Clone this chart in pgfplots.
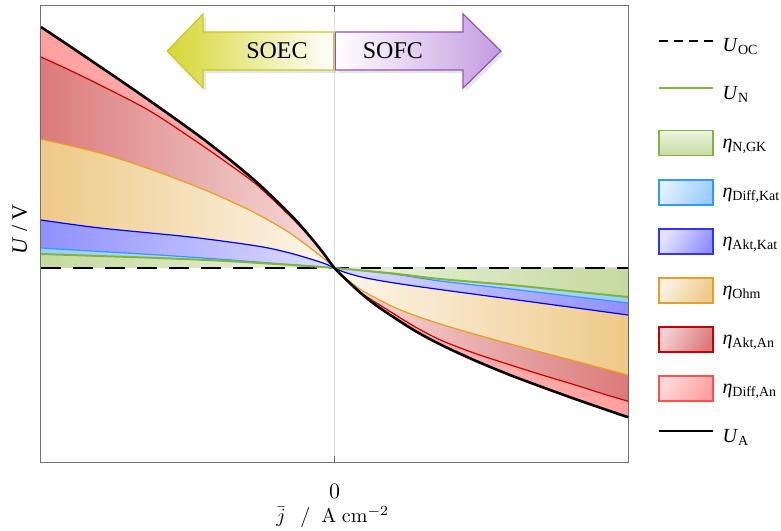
\documentclass[border=0pt]{standalone}
\usepackage[no-math]{fontspec}
\setmainfont{Liberation Serif}
\usepackage{pgfplots}
\usepackage{pgfplotstable}
\pgfplotsset{compat=1.18}
\usepgfplotslibrary{fillbetween}
\usetikzlibrary{shadows}

\definecolor{ngkfill}{RGB}{197,218,159}
\definecolor{ngkline}{RGB}{130,180,60}
\definecolor{dkfill}{RGB}{153,204,255}
\definecolor{dkline}{RGB}{51,153,255}
\definecolor{akfill}{RGB}{144,144,255}
\definecolor{akline}{RGB}{0,0,255}
\definecolor{ohmfill}{RGB}{238,201,135}
\definecolor{ohmline}{RGB}{232,160,32}
\definecolor{aafill}{RGB}{220,122,122}
\definecolor{aaline}{RGB}{204,0,0}
\definecolor{dafill}{RGB}{255,160,160}
\definecolor{daline}{RGB}{255,80,80}
\definecolor{soecfill}{RGB}{214,214,50}
\definecolor{soecline}{RGB}{200,200,30}
\definecolor{sofcfill}{RGB}{195,155,224}
\definecolor{sofcline}{RGB}{150,80,190}

% U_A
\pgfplotstableread{
x y
-1.000 2.410
-0.911 2.236
-0.799 2.014
-0.687 1.790
-0.571 1.552
-0.458 1.313
-0.356 1.081
-0.264 0.855
-0.152 0.540
-0.084 0.317
-0.039 0.153
0.000 0.000
0.055 -0.159
0.102 -0.282
0.157 -0.405
0.269 -0.619
0.361 -0.765
0.474 -0.919
0.589 -1.060
0.702 -1.185
0.814 -1.304
0.930 -1.422
1.000 -1.492
}\tabUA
% boundary Akt,An
\pgfplotstableread{
x y
-1.000 2.11
-0.911 1.99
-0.799 1.83
-0.629 1.57
-0.458 1.24
-0.356 1.03
-0.264 0.83
-0.152 0.52
-0.084 0.31
-0.039 0.148
0.000 0.000
0.055 -0.154
0.102 -0.272
0.157 -0.375
0.269 -0.579
0.361 -0.720
0.474 -0.849
0.589 -0.960
0.702 -1.065
0.814 -1.164
0.930 -1.272
1.000 -1.332
}\tabAA
% boundary Ohm
\pgfplotstableread{
x y
-1.000 1.29
-0.799 1.15
-0.629 0.99
-0.458 0.80
-0.356 0.67
-0.264 0.54
-0.152 0.35
-0.039 0.10
0.000 0.00
0.034 -0.094
0.099 -0.233
0.215 -0.407
0.361 -0.561
0.589 -0.752
0.814 -0.926
1.000 -1.070
}\tabOhm
% boundary Akt,Kat
\pgfplotstableread{
x y
-1.000 0.48
-0.799 0.40
-0.492 0.31
-0.264 0.22
-0.152 0.15
-0.039 0.05
0.000 0.00
0.034 -0.042
0.099 -0.095
0.204 -0.150
0.361 -0.216
0.702 -0.351
1.000 -0.470
}\tabAK
% boundary Diff,Kat
\pgfplotstableread{
x y
-1.000 0.200
-0.800 0.165
-0.600 0.130
-0.400 0.090
-0.200 0.045
0.000 0.000
0.200 -0.060
0.360 -0.130
0.600 -0.210
0.800 -0.280
1.000 -0.350
}\tabDK
% U_N
\pgfplotstableread{
x y
-1.000 0.140
-0.800 0.120
-0.600 0.100
-0.400 0.075
-0.200 0.040
0.000 0.000
0.200 -0.055
0.360 -0.110
0.600 -0.170
0.800 -0.230
1.000 -0.290
}\tabUN
% U_OC
\pgfplotstableread{
x y
-1.000 0.00
1.000 0.00
}\tabUOC

\newcommand{\legsub}[1]{\textsubscript{#1}}

\begin{document}
\begin{tikzpicture}[font=\fontsize{10}{12}\selectfont]
\begin{axis}[
  scale only axis, width=293.5pt, height=228pt,
  xmin=-1, xmax=1, ymin=-1.94, ymax=2.62,
  xtick={0}, ytick=\empty,
  xmajorgrids, grid style={black!12, line width=0.4pt},
  axis line style={black!55, line width=0.5pt},
  tick style={black!60, line width=0.5pt}, major tick length=3pt,
  xticklabel style={font=\fontsize{10.5}{12}\selectfont, yshift=-7.5pt},
  set layers,
  xlabel={$\bar{j}\;\;\,/\;\;\mathrm{A}\;\mathrm{cm}^{-2}$},
  xlabel style={at={(axis description cs:0.497,-0.121)}, anchor=center, font=\fontsize{10}{12}\selectfont},
  ylabel={\textit{U} / V},
  ylabel style={at={(axis description cs:-0.036,0.51)}, anchor=center, font=\fontsize{11}{12}\selectfont},
  legend style={at={(axis description cs:1.051,0.939)}, anchor=north west, draw=none, fill=none,
    inner sep=0pt, outer sep=0pt, row sep=11.25pt,
    nodes={inner sep=0pt, text height=9pt, text depth=3.5pt},
    /tikz/every odd column/.append style={column sep=4pt},
    font=\fontsize{10}{12}\selectfont},
  legend cell align=left,
  every axis plot/.append style={mark=none},
]
% named paths (drawn later as lines)
\addplot[forget plot, draw=none, name path=UA, smooth] table[x=x,y=y] {\tabUA};
\addplot[forget plot, draw=none, name path=AA, smooth] table[x=x,y=y] {\tabAA};
\addplot[forget plot, draw=none, name path=OH, smooth] table[x=x,y=y] {\tabOhm};
\addplot[forget plot, draw=none, name path=AK, smooth] table[x=x,y=y] {\tabAK};
\addplot[forget plot, draw=none, name path=DK, smooth] table[x=x,y=y] {\tabDK};
\addplot[forget plot, draw=none, name path=UN, smooth] table[x=x,y=y] {\tabUN};
\addplot[forget plot, draw=none, name path=UOC] table[x=x,y=y] {\tabUOC};

% fills, left (SOEC) side
\addplot[forget plot, left color=dafill, right color=dafill!75!white] fill between[of=UA and AA, soft clip={domain=-1:0}];
\addplot[forget plot, left color=aafill, right color=aafill!25!white] fill between[of=AA and OH, soft clip={domain=-1:0}];
\addplot[forget plot, left color=ohmfill, right color=ohmfill!15!white] fill between[of=OH and AK, soft clip={domain=-1:0}];
\addplot[forget plot, left color=akfill, right color=akfill!30!white] fill between[of=AK and DK, soft clip={domain=-1:0}];
\addplot[forget plot, left color=dkfill, right color=dkfill!40!white] fill between[of=DK and UN, soft clip={domain=-1:0}];
\addplot[forget plot, left color=ngkfill, right color=ngkfill!35!white] fill between[of=UN and UOC, soft clip={domain=-1:0}];
% fills, right (SOFC) side
\addplot[forget plot, right color=dafill, left color=dafill!75!white] fill between[of=UA and AA, soft clip={domain=0:1}];
\addplot[forget plot, right color=aafill, left color=aafill!25!white] fill between[of=AA and OH, soft clip={domain=0:1}];
\addplot[forget plot, right color=ohmfill, left color=ohmfill!15!white] fill between[of=OH and AK, soft clip={domain=0:1}];
\addplot[forget plot, right color=akfill, left color=akfill!30!white] fill between[of=AK and DK, soft clip={domain=0:1}];
\addplot[forget plot, right color=dkfill, left color=dkfill!40!white] fill between[of=DK and UN, soft clip={domain=0:1}];
\addplot[forget plot, right color=ngkfill, left color=ngkfill!35!white] fill between[of=UN and UOC, soft clip={domain=0:1}];

% lines
\addplot[forget plot, black, line width=0.9pt, dash pattern=on 10pt off 6pt] table[x=x,y=y] {\tabUOC};
\addplot[forget plot, dkline, line width=0.6pt, smooth] table[x=x,y=y] {\tabDK};
\addplot[forget plot, ngkline, line width=1pt, smooth] table[x=x,y=y] {\tabUN};
\addplot[forget plot, akline, line width=0.6pt, smooth] table[x=x,y=y] {\tabAK};
\addplot[forget plot, ohmline, line width=0.6pt, smooth] table[x=x,y=y] {\tabOhm};
\addplot[forget plot, aaline, line width=0.6pt, smooth] table[x=x,y=y] {\tabAA};
\addplot[forget plot, black, line width=1.3pt, smooth] table[x=x,y=y] {\tabUA};

% SOEC / SOFC arrows
\path[draw=soecline, line width=0.6pt, left color=soecfill, right color=white,
      drop shadow={shadow xshift=1.5pt, shadow yshift=-1.5pt, opacity=0.2}]
  (axis cs:-0.570,2.17) -- (axis cs:-0.448,2.54) -- (axis cs:-0.448,2.36) -- (axis cs:-0.003,2.36)
  -- (axis cs:-0.003,1.98) -- (axis cs:-0.448,1.98) -- (axis cs:-0.448,1.80) -- cycle;
\path[draw=sofcline, line width=0.6pt, left color=white, right color=sofcfill,
      drop shadow={shadow xshift=1.5pt, shadow yshift=-1.5pt, opacity=0.2}]
  (axis cs:0.567,2.17) -- (axis cs:0.438,2.54) -- (axis cs:0.438,2.36) -- (axis cs:0.003,2.36)
  -- (axis cs:0.003,1.98) -- (axis cs:0.438,1.98) -- (axis cs:0.438,1.80) -- cycle;
\node[font=\fontsize{12}{14}\selectfont] at (axis cs:-0.196,2.17) {SOEC};
\node[font=\fontsize{12}{14}\selectfont] at (axis cs:0.199,2.17) {SOFC};

% legend
\addlegendimage{legend image code/.code={\path[draw=none, fill=none] (0pt,-6.5pt) rectangle (27pt,6pt); \draw[black, line width=0.9pt, dash pattern=on 4.5pt off 3pt] (0pt,2.5pt) -- (27pt,2.5pt);}}
\addlegendentry{\textit{U}\legsub{OC}}
\addlegendimage{legend image code/.code={\path[draw=none, fill=none] (0pt,-6.5pt) rectangle (27pt,6pt); \draw[ngkline, line width=1pt] (0pt,3pt) -- (27pt,3pt);}}
\addlegendentry{\textit{U}\legsub{N}}
\addlegendimage{legend image code/.code={\draw[ngkline, line width=0.8pt, shading angle=60, top color=ngkfill!30!white, bottom color=ngkfill] (0pt,-6.5pt) rectangle (27pt,6pt);}}
\addlegendentry{\textit{η}\legsub{N,GK}}
\addlegendimage{legend image code/.code={\draw[dkline, line width=0.8pt, top color=dkfill!30!white, bottom color=dkfill, shading angle=60] (0pt,-6.5pt) rectangle (27pt,6pt);}}
\addlegendentry{\textit{η}\legsub{Diff,Kat}}
\addlegendimage{legend image code/.code={\draw[akline!80!white, line width=0.8pt, top color=akfill!25!white, bottom color=akfill, shading angle=60] (0pt,-6.5pt) rectangle (27pt,6pt);}}
\addlegendentry{\textit{η}\legsub{Akt,Kat}}
\addlegendimage{legend image code/.code={\draw[ohmline, line width=0.8pt, top color=ohmfill!25!white, bottom color=ohmfill, shading angle=60] (0pt,-6.5pt) rectangle (27pt,6pt);}}
\addlegendentry{\textit{η}\legsub{Ohm}}
\addlegendimage{legend image code/.code={\draw[aaline, line width=0.8pt, top color=aafill!35!white, bottom color=aafill, shading angle=60] (0pt,-6.5pt) rectangle (27pt,6pt);}}
\addlegendentry{\textit{η}\legsub{Akt,An}}
\addlegendimage{legend image code/.code={\draw[daline, line width=0.8pt, top color=dafill!40!white, bottom color=dafill, shading angle=60] (0pt,-6.5pt) rectangle (27pt,6pt);}}
\addlegendentry{\textit{η}\legsub{Diff,An}}
\addlegendimage{legend image code/.code={\path[draw=none, fill=none] (0pt,-6.5pt) rectangle (27pt,6pt); \draw[black, line width=1.3pt] (0pt,3pt) -- (27pt,3pt);}}
\addlegendentry{\textit{U}\legsub{A}}
\end{axis}
\pgfresetboundingbox
\path[use as bounding box] ([shift={(-20.5pt,-34pt)}]current axis.south west) rectangle ++(390.5pt,265pt);
\end{tikzpicture}
\end{document}
